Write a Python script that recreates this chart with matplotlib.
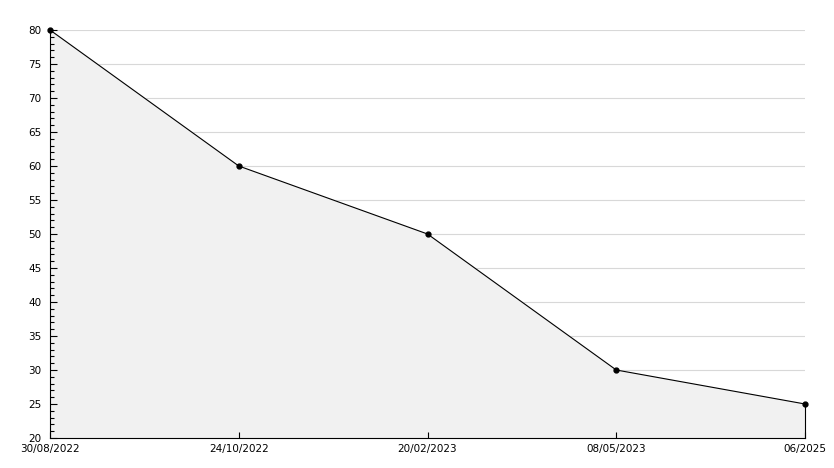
import matplotlib
matplotlib.use('Agg')
import matplotlib.pyplot as plt
from matplotlib.ticker import MultipleLocator

dates = ['30/08/2022', '24/10/2022', '20/02/2023', '08/05/2023', '06/2025']
values = [80, 60, 50, 30, 25]
grid_levels = [25, 30, 35, 40, 45, 50, 55, 60, 65, 70, 75, 80]

fig = plt.figure(figsize=(8.34, 4.68), dpi=100)
ax = fig.add_axes([50 / 834, 30 / 468, 755 / 834, 408 / 468])

x = list(range(len(dates)))
# gridlines sit behind the filled area
for g in grid_levels:
    ax.axhline(g, color='#d8d8d8', linewidth=0.8, zorder=0.5)
ax.fill_between(x, values, 20, color='#f1f1f1', zorder=1)
ax.plot(x, values, color='black', linewidth=0.8, marker='o', markersize=3.5,
        zorder=4, clip_on=False)
# right edge of the filled area
ax.plot([x[-1], x[-1]], [values[-1], 20], color='black', linewidth=0.8, zorder=3, clip_on=False)

ax.set_xlim(0, len(dates) - 1)
ax.set_ylim(20, 80)
ax.set_xticks(x)
ax.set_xticklabels(dates)
ax.yaxis.set_major_locator(MultipleLocator(5))
ax.yaxis.set_minor_locator(MultipleLocator(1))

for s in ['top', 'right']:
    ax.spines[s].set_visible(False)
ax.spines['left'].set_linewidth(0.8)
ax.spines['bottom'].set_linewidth(0.8)

ax.tick_params(axis='y', which='major', direction='in', length=5, width=0.8, labelsize=7.5, pad=6)
ax.tick_params(axis='y', which='minor', direction='in', length=3, width=0.8)
ax.tick_params(axis='x', which='major', direction='in', length=4, width=0.8, labelsize=7.5, pad=4)
ax.tick_params(axis='x', which='minor', bottom=False)

fig.savefig('out.png', dpi=100, facecolor='white')
